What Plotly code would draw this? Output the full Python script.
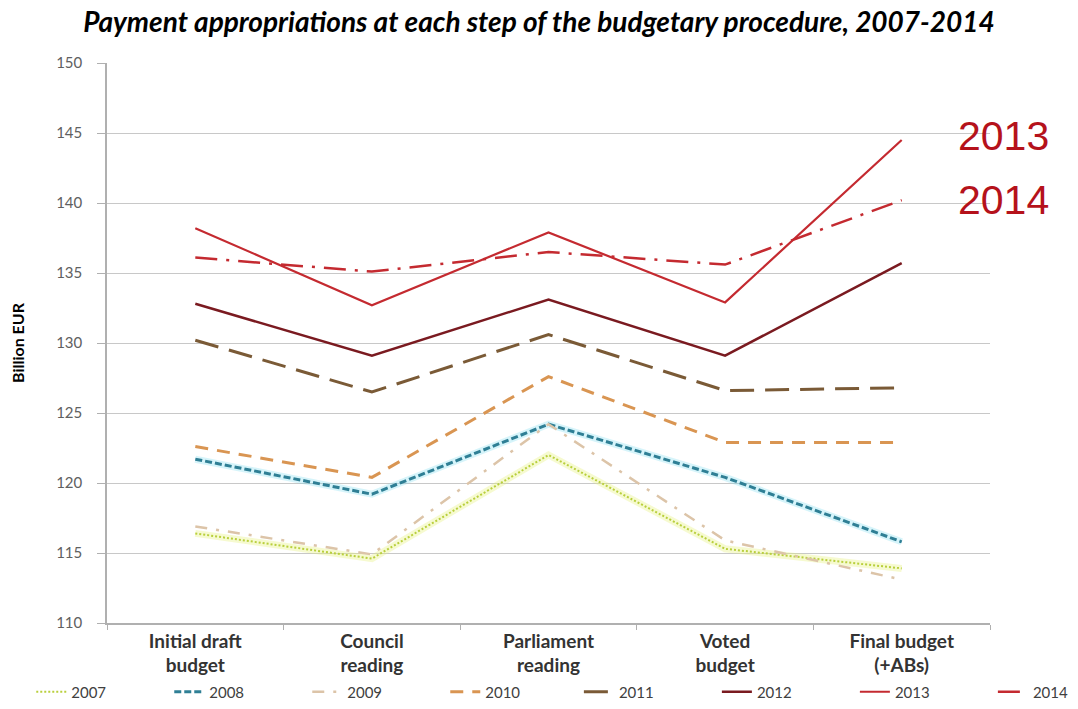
import plotly.graph_objects as go

categories = ["Initial draft<br>budget", "Council<br>reading", "Parliament<br>reading", "Voted<br>budget", "Final budget<br>(+ABs)"]
years = ["2007", "2008", "2009", "2010", "2011", "2012", "2013", "2014"]
v2007 = [116.4, 114.6, 122.0, 115.3, 113.9]
v2008 = [121.7, 119.2, 124.2, 120.4, 115.8]
v2009 = [116.9, 114.9, 124.2, 115.9, 113.1]
v2010 = [122.6, 120.4, 127.6, 122.9, 122.9]
v2011 = [130.2, 126.5, 130.6, 126.6, 126.8]
v2012 = [132.8, 129.1, 133.1, 129.1, 135.7]
v2013 = [138.2, 132.7, 137.9, 132.9, 144.5]
v2014 = [136.1, 135.1, 136.5, 135.6, 140.2]
y_ticks = [110, 115, 120, 125, 130, 135, 140, 145, 150]

values = [v2007, v2008, v2009, v2010, v2011, v2012, v2013, v2014]
colors = ["#b9cf3c", "#2f7f95", "#dcc4a8", "#d99552", "#7a5a36", "#7a1a20", "#c42a30", "#c42a30"]
dashes = ["2px,2px", "7px,3px", "12px,9px,3px,9px", "13px,9px", "24px,11px", "solid", "solid", "22px,9px,3px,9px"]
widths = [2, 3, 2.5, 3, 3, 2.5, 2.2, 2.5]
glows = {"2007": "rgba(230,240,120,0.35)", "2008": "rgba(120,220,240,0.3)"}

fig = go.Figure()
for i, (yr, vals, c, d, w) in enumerate(zip(years, values, colors, dashes, widths)):
    lg = "legend" if i < 4 else "legend2"
    if yr in glows:
        fig.add_trace(go.Scatter(x=categories, y=vals, mode="lines", showlegend=False,
                                 hoverinfo="skip", line=dict(color=glows[yr], width=7)))
    fig.add_trace(go.Scatter(x=categories, y=vals, mode="lines", name=yr, legend=lg,
                             line=dict(color=c, dash=d, width=w)))

fig.add_annotation(x=1.0, xref="paper", xanchor="left", y=v2013[-1] + 0.3, yref="y",
                   text="2013", showarrow=False, xshift=-34,
                   font=dict(family="Liberation Sans", size=41, color="#b5121b"))
fig.add_annotation(x=1.0, xref="paper", xanchor="left", y=v2014[-1], yref="y",
                   text="2014", showarrow=False, xshift=-34,
                   font=dict(family="Liberation Sans", size=41, color="#b5121b"))

legend_style = dict(orientation="h", xref="container", xanchor="left",
                    yref="container", y=0.024, yanchor="middle",
                    entrywidth=93, entrywidthmode="pixels",
                    font=dict(family="Lato", size=15, color="#404040"),
                    bgcolor="rgba(0,0,0,0)")

fig.update_layout(
    width=1078, height=709,
    margin=dict(l=107, r=88, t=63, b=86, autoexpand=False),
    paper_bgcolor="white", plot_bgcolor="white",
    font=dict(family="Lato", color="#404040"),
    title=dict(text="<b><i>Payment appropriations at each step of the budgetary procedure, 2007-2014</i></b>",
               x=0.5, xanchor="center", y=0.968, yanchor="middle",
               font=dict(family="Lato", size=28, color="black")),
    xaxis=dict(type="category", range=[-0.5, 4.5], tickson="boundaries", ticks="outside",
               ticklen=5, tickcolor="#b0b0b0", showline=True, linecolor="#b0b0b0", linewidth=1.5,
               showgrid=False, automargin=False,
               tickfont=dict(family="Lato", size=19, color="#333333")),
    yaxis=dict(range=[110, 150], tickvals=y_ticks, ticks="outside", ticklen=8, tickcolor="#b0b0b0",
               ticklabelstandoff=12,
               showline=True, linecolor="#b0b0b0", linewidth=1.5, gridcolor="#c8c8c8", gridwidth=1.2,
               zeroline=False, automargin=False, tickfont=dict(family="Lato", size=15, color="#606060"),
               title=dict(text="<b>Billion EUR</b>", font=dict(family="Lato", size=16, color="black"),
                          standoff=28)),
    legend=dict(legend_style, x=0.029),
    legend2=dict(legend_style, x=0.537),
)
fig.for_each_xaxis(lambda a: a.update(ticktext=["<b>" + c + "</b>" for c in categories], tickvals=categories))

fig.write_html("out.html")
